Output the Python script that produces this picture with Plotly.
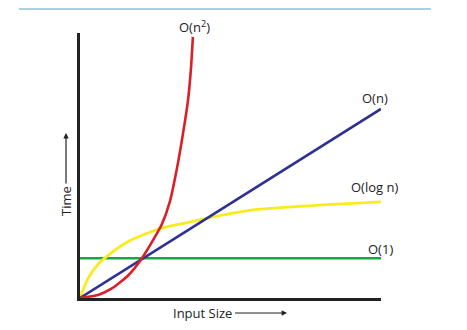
import plotly.graph_objects as go

# Growth curves (input size on x, time on y)
n_const = [0.0, 10.0]
t_const = [1.32, 1.32]

n_linear = [0.0, 10.0]
t_linear = [0.0, 6.28]

n_log = [0.0, 0.13, 0.27, 0.60, 0.86, 1.59, 2.69, 3.65, 4.32, 5.88, 8.07, 10.0]
t_log = [0.0, 0.34, 0.66, 1.12, 1.36, 1.87, 2.31, 2.52, 2.67, 2.94, 3.09, 3.19]

n_quad = [0.0, 0.60, 1.03, 1.59, 2.03, 2.49, 2.72, 2.99, 3.22, 3.42, 3.59, 3.69, 3.75]
t_quad = [0.0, 0.10, 0.30, 0.74, 1.28, 2.03, 2.45, 3.22, 4.30, 5.45, 6.58, 7.67, 8.67]

labels = ["O(n<sup>2</sup>)", "O(n)", "O(log n)", "O(1)"]
label_x = [0.382, 0.980, 0.977, 0.997]
label_y = [1.024, 0.755, 0.418, 0.186]

RED = "#dc1f26"
BLUE = "#2e3192"
YELLOW = "#f9ec1e"
GREEN = "#1ba54b"
INK = "#222222"
FONT = "Open Sans"

fig = go.Figure()
fig.add_trace(go.Scatter(x=n_const, y=t_const, mode="lines",
                         line=dict(color=GREEN, width=2.6)))
fig.add_trace(go.Scatter(x=n_log, y=t_log, mode="lines",
                         line=dict(color=YELLOW, width=2.8, shape="spline", smoothing=0.7)))
fig.add_trace(go.Scatter(x=n_linear, y=t_linear, mode="lines",
                         line=dict(color=BLUE, width=2.6)))
fig.add_trace(go.Scatter(x=n_quad, y=t_quad, mode="lines",
                         line=dict(color=RED, width=2.6, shape="spline", smoothing=0.6)))

annotations = []
for txt, lx, ly in zip(labels, label_x, label_y):
    annotations.append(dict(x=lx, y=ly, xref="paper", yref="paper", text=txt,
                            xanchor="center", yanchor="middle", showarrow=False,
                            font=dict(family=FONT, size=13, color=INK)))

# axis titles, each with an arrow pointing along its axis
annotations.append(dict(x=-0.0465, y=0.6226, xref="paper", yref="paper",
                        text="Time", textangle=-90, ax=0, ay=68,
                        showarrow=True, arrowhead=2, arrowsize=0.9, arrowwidth=1.2,
                        arrowcolor=INK, standoff=0, startstandoff=1,
                        font=dict(family=FONT, size=13, color=INK)))
annotations.append(dict(x=0.6877, y=-0.0566, xref="paper", yref="paper",
                        text="Input Size", ax=-84, ay=0,
                        showarrow=True, arrowhead=2, arrowsize=0.9, arrowwidth=1.2,
                        arrowcolor=INK, standoff=0, startstandoff=1,
                        font=dict(family=FONT, size=13, color=INK)))

fig.update_layout(
    width=467, height=330,
    margin=dict(l=80, r=86, t=33, b=32),
    paper_bgcolor="white", plot_bgcolor="white",
    showlegend=False,
    xaxis=dict(range=[0, 10], showgrid=False, zeroline=False, showticklabels=False,
               ticks="", showline=True, linecolor=INK, linewidth=2.5),
    yaxis=dict(range=[0, 8.8], showgrid=False, zeroline=False, showticklabels=False,
               ticks="", showline=True, linecolor=INK, linewidth=2.5),
    annotations=annotations,
    shapes=[dict(type="line", xref="paper", yref="paper",
                 x0=-0.203, x1=1.166, y0=1.0906, y1=1.0906,
                 line=dict(color="#5aa2c3", width=1.2))],
)

fig.write_html("out.html")
